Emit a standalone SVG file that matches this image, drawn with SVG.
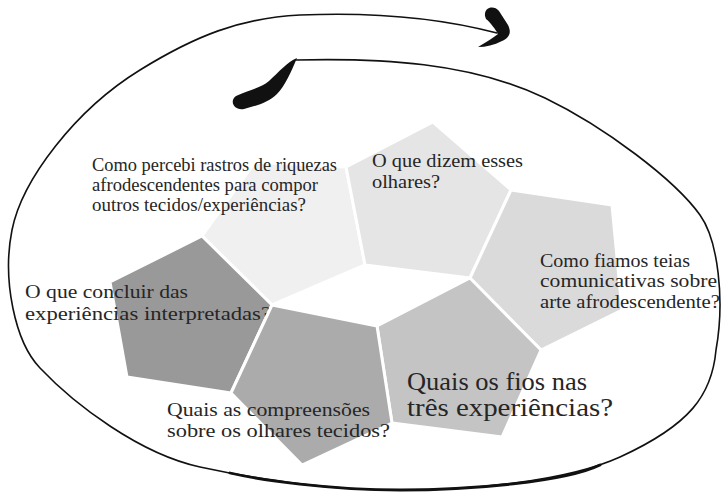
<svg xmlns="http://www.w3.org/2000/svg" width="722" height="496" viewBox="0 0 722 496">
<style>
.pent{stroke:#ffffff;stroke-width:3;stroke-linejoin:round}
.t{font-family:"Liberation Serif","DejaVu Serif",serif;font-size:19px;fill:#262626}
.tb{font-family:"Liberation Serif","DejaVu Serif",serif;font-size:25px;fill:#262626}
.line{fill:none;stroke:#111111;stroke-width:1.6;stroke-linecap:round}
.brush{fill:#111111;stroke:none}
</style>
<rect width="722" height="496" fill="#ffffff"/>
<g id="connectors">
<path class="line" d="M296,60 C380,58 470,62 545,98 C605,127 675,180 700,215 C718,240 725,300 716,350 C712,395 690,425 620,457 C565,482 470,490 400,490 C330,490 260,480 200,467 C140,454 75,405 40,368 C15,342 2,280 12,230 C22,180 75,110 140,70 C195,36 240,18 300,15 C370,12 440,18 497,33"/>
<path class="line" style="stroke-width:2.8" d="M600,465 C565,482 470,490 400,490 C330,490 260,480 230,473"/>
<path class="brush" d="M297,58 C291,72 285,86 277,94 C268,103 255,106 244,109 C234,111 229,101 236,96 C249,90 261,88 269,81 C279,72 287,62 297,58 Z"/>
<path class="brush" d="M485,16 C484,7 494,5 499,11 L508,25 C512,33 509,38 502,41 C494,45 486,47 478,47 C486,42 493,38 498,34 C496,30 490,22 486,19 Z"/>
</g>
<g id="node-percebi">
<polygon class="pent" fill="#f0f0f0" points="365,265 346,167 255,162 202,236 272,305"/>
<text class="t"><tspan x="92" y="171" textLength="245" lengthAdjust="spacingAndGlyphs">Como percebi rastros de riquezas</tspan><tspan x="92" y="191" textLength="226" lengthAdjust="spacingAndGlyphs">afrodescendentes para compor</tspan><tspan x="92" y="211" textLength="214" lengthAdjust="spacingAndGlyphs">outros tecidos/experiências?</tspan></text>
</g>
<g id="node-dizem">
<polygon class="pent" fill="#e5e5e5" points="433,122 511,190 470,278 365,265 346,167"/>
<text class="t"><tspan x="372" y="167" textLength="151" lengthAdjust="spacingAndGlyphs">O que dizem esses</tspan><tspan x="372" y="188" textLength="68" lengthAdjust="spacingAndGlyphs">olhares?</tspan></text>
</g>
<g id="node-fiamos">
<polygon class="pent" fill="#dadada" points="511,190 612,205 622,310 541,350 470,278"/>
<text class="t"><tspan x="540" y="267" textLength="150" lengthAdjust="spacingAndGlyphs">Como fiamos teias</tspan><tspan x="540" y="287" textLength="177" lengthAdjust="spacingAndGlyphs">comunicativas sobre</tspan><tspan x="540" y="308" textLength="180" lengthAdjust="spacingAndGlyphs">arte afrodescendente?</tspan></text>
</g>
<g id="node-fios">
<polygon class="pent" fill="#c4c4c4" points="470,278 541,350 502,437 392,423 377,326"/>
<text class="tb"><tspan x="407" y="390" textLength="180" lengthAdjust="spacingAndGlyphs">Quais os fios nas</tspan><tspan x="407" y="416" textLength="206" lengthAdjust="spacingAndGlyphs">três experiências?</tspan></text>
</g>
<g id="node-concluir">
<polygon class="pent" fill="#999999" points="202,236 272,305 231,393 127,377 110,282"/>
<text class="t"><tspan x="25" y="298" textLength="163" lengthAdjust="spacingAndGlyphs">O que concluir das</tspan><tspan x="25" y="320" textLength="246" lengthAdjust="spacingAndGlyphs">experiências interpretadas?</tspan></text>
</g>
<g id="node-compreensoes">
<polygon class="pent" fill="#ababab" points="272,305 377,326 392,423 302,465 231,393"/>
<text class="t"><tspan x="167" y="416" textLength="203" lengthAdjust="spacingAndGlyphs">Quais as compreensões</tspan><tspan x="167" y="437" textLength="223" lengthAdjust="spacingAndGlyphs">sobre os olhares tecidos?</tspan></text>
</g>
</svg>
